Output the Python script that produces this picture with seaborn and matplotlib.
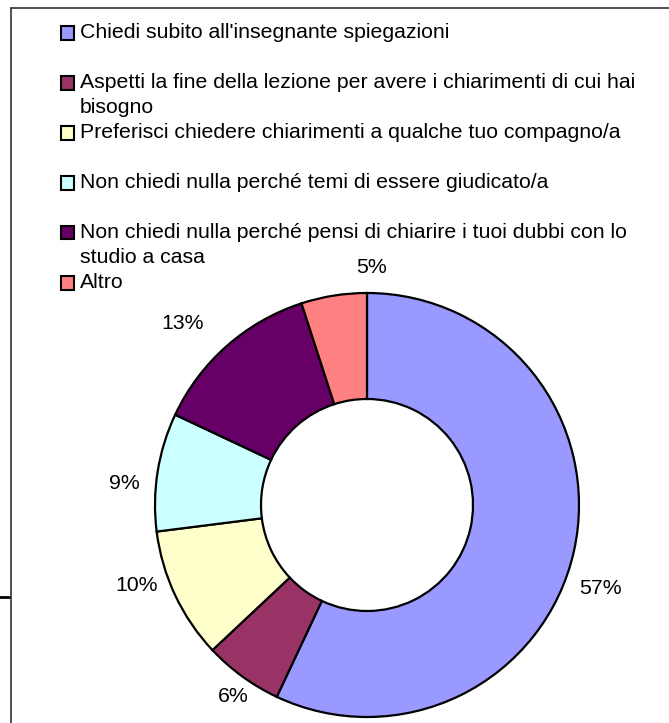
import matplotlib
matplotlib.use("Agg")
import numpy as np
import matplotlib.pyplot as plt
from matplotlib.patches import Rectangle
from matplotlib.lines import Line2D
import seaborn as sns

# ================== dati ==================
categorie = [
    "Chiedi subito all'insegnante spiegazioni",
    "Aspetti la fine della lezione per avere i chiarimenti di cui hai\nbisogno",
    "Preferisci chiedere chiarimenti a qualche tuo compagno/a",
    "Non chiedi nulla perché temi di essere giudicato/a",
    "Non chiedi nulla perché pensi di chiarire i tuoi dubbi con lo\nstudio a casa",
    "Altro",
]
percentuali = [57, 6, 10, 9, 13, 5]
colori = ["#9999FF", "#993366", "#FFFFCC", "#CCFFFF", "#660066", "#FF8080"]
# ==========================================

# posizione delle etichette % (distanza radiale, spostamento angolare in gradi)
dist_etichette = [1.17, 1.10, 1.15, 1.15, 1.22, 1.12]
shift_etichette = [-7, 1, -6, 4, 4, -10]

W, H = 669, 723

sns.set_theme(style="white")
plt.rcParams["font.family"] = ["Liberation Sans", "DejaVu Sans"]
plt.rcParams["text.color"] = "black"

fig = plt.figure(figsize=(W / 100, H / 100), dpi=100)


def fx(px):
    return px / W


def fy(py):
    return 1 - py / H


# cornice del grafico
fig.add_artist(Line2D([fx(11), fx(11)], [fy(8), 0], color="#333333", lw=1.2,
                      transform=fig.transFigure))
fig.add_artist(Line2D([fx(11), 1], [fy(8), fy(8)], color="#333333", lw=1.2,
                      transform=fig.transFigure))
fig.add_artist(Line2D([0, fx(9)], [fy(597), fy(597)], color="black", lw=2,
                      transform=fig.transFigure))

# ciambella
cx, cy, r = 367, 505, 212
ax = fig.add_axes([fx(cx - r), fy(cy + r), 2 * r / W, 2 * r / H])
wedges, _, autotexts = ax.pie(
    percentuali,
    colors=colori,
    startangle=90,
    counterclock=False,
    autopct="%1.0f%%",
    pctdistance=1.15,
    wedgeprops=dict(width=0.5, edgecolor="black", linewidth=1.6, clip_on=False),
    textprops=dict(fontsize=15.3, color="black"),
)
for w, t, d, s in zip(wedges, autotexts, dist_etichette, shift_etichette):
    ang = np.deg2rad((w.theta1 + w.theta2) / 2 + s)
    t.set_position((d * np.cos(ang), d * np.sin(ang)))
    t.set_ha("center")
    t.set_va("center")
ax.set_xlim(-1, 1)
ax.set_ylim(-1, 1)
ax.set_aspect("equal")
ax.axis("off")

# legenda (una riga di testo alla volta)
y0, passo, interlinea = 33, 50, 24.5
for i, (lab, col) in enumerate(zip(categorie, colori)):
    yr = y0 + i * passo
    fig.add_artist(Rectangle((fx(61), fy(yr + 6.5)), 13 / W, 13 / H,
                             facecolor=col, edgecolor="black", lw=1.5,
                             transform=fig.transFigure))
    for j, riga in enumerate(lab.split("\n")):
        fig.text(fx(80), fy(yr + j * interlinea), riga, fontsize=15.3,
                 va="center", ha="left", color="black")

plt.savefig("out.png", dpi=100)
